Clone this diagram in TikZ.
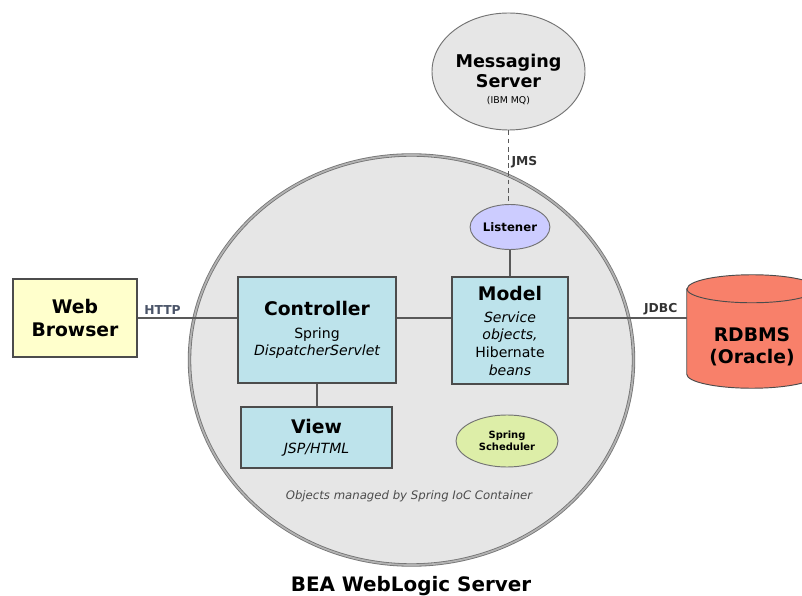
\documentclass[tikz,border=0pt]{standalone}
\usepackage{fontspec}
\setmainfont{DejaVu Sans}
\usetikzlibrary{shapes.geometric}
\definecolor{wlsgray}{HTML}{E6E6E6}
\definecolor{boxblue}{HTML}{BDE3EB}
\definecolor{webyellow}{HTML}{FFFFCC}
\definecolor{lisblue}{HTML}{CCCCFF}
\definecolor{schedgreen}{HTML}{DDEEA8}
\definecolor{dbred}{HTML}{F8806A}
\definecolor{httpslate}{HTML}{4A5468}
\newcommand{\subtxt}[1]{{\fontsize{12}{14}\selectfont\mdseries #1}}

\begin{document}
\begin{tikzpicture}[
    x=0.03cm, y=-0.03cm,
    every node/.style={font=\fontsize{16}{19}\selectfont\bfseries},
    box/.style={draw=black!70, line width=1pt, fill=boxblue, align=center, inner sep=2pt},
    blob/.style={ellipse, draw=black!55, line width=0.8pt, inner sep=1pt, align=center},
    wire/.style={draw=black!65, line width=1.2pt},
    tag/.style={font=\fontsize{10.5}{12}\selectfont\bfseries, text=black!80, inner sep=2pt},
    dbskin/.style={draw=black!70, line width=0.8pt, fill=dbred},
]
\useasboundingbox (0,0) rectangle (802,596);
% the server itself
\node[ellipse, draw=black!55, double=black!30, double distance=1.5pt, line width=0.7pt,
  fill=wlsgray, minimum width=13.32cm, minimum height=12.3cm] (wls) at (411.5,360) {};

\node[box, fill=webyellow, minimum width=3.72cm, minimum height=2.34cm] (web) at (75,318) {Web\\Browser};
\node[box, minimum width=4.74cm, minimum height=3.18cm] (ctrl) at (317,330)
  {Controller\\\subtxt{Spring}\\[-4pt]\subtxt{\itshape DispatcherServlet}};
\node[box, minimum width=3.48cm, minimum height=3.21cm] (model) at (510,330.5)
  {Model\\\subtxt{\itshape Service}\\[-4pt]\subtxt{\itshape objects,}\\[-4pt]\subtxt{Hibernate}\\[-4pt]\subtxt{\itshape beans}};
\node[box, minimum width=4.53cm, minimum height=1.83cm] (view) at (316.5,437.5)
  {View\\[-2pt]\subtxt{\itshape JSP/HTML}};

\node[blob, fill=wlsgray, minimum width=4.59cm, minimum height=3.51cm,
  label={[align=center, yshift=-0.24cm, font=\fontsize{15}{17}\selectfont\bfseries]center:
    Messaging\\Server\\[-3pt]{\fontsize{8}{9}\selectfont\mdseries (IBM MQ)}}] (msg) at (508.5,71.5) {};
\node[blob, fill=lisblue, minimum width=2.28cm, minimum height=1.35cm,
  font=\fontsize{10}{12}\selectfont\bfseries] (lis) at (510,227) {Listener};
\node[blob, fill=schedgreen, minimum width=3.06cm, minimum height=1.56cm,
  font=\fontsize{8.5}{10}\selectfont\bfseries] (sched) at (507,441) {Spring\\Scheduler};

% database drum
\node[minimum width=3.9cm, minimum height=3.39cm, inner sep=0pt] (db) at (752,331.5) {};
\draw[dbskin] ([yshift=-0.42cm]db.north west) -- ([yshift=0.42cm]db.south west)
  arc(180:360:1.95cm and 0.42cm) -- ([yshift=-0.42cm]db.north east)
  arc(0:180:1.95cm and 0.42cm) -- cycle;
\draw[dbskin, fill=none] ([yshift=-0.42cm]db.north west) arc(180:360:1.95cm and 0.42cm);
\node[align=center] (dbtxt) at ([yshift=-0.45cm]db.center) {RDBMS\\(Oracle)};

% connectors
\draw[wire] (web) -- node[tag, above, pos=0.25, text=httpslate] {HTTP} (ctrl.west |- web);
\draw[wire] (ctrl.east |- web) -- (model.west |- web);
\draw[wire] (model.east |- web) -- node[tag, above, pos=0.78] {JDBC} (db.west |- web);
\draw[wire] (ctrl.south) -- (ctrl.south |- view.north);
\draw[wire] (lis.south) -- (lis.south |- model.north);
\draw[wire, dash pattern=on 4pt off 3pt] (msg.south) -- node[tag, right, pos=0.43] {JMS} (msg.south |- lis.north);

\node[font=\fontsize{10}{12}\selectfont\mdseries\itshape, text=black!70] (ioc) at (409,496)
  {Objects managed by Spring IoC Container};
\node[font=\fontsize{17}{20}\selectfont\bfseries] (bea) at (411,586) {BEA WebLogic Server};
\end{tikzpicture}
\end{document}
